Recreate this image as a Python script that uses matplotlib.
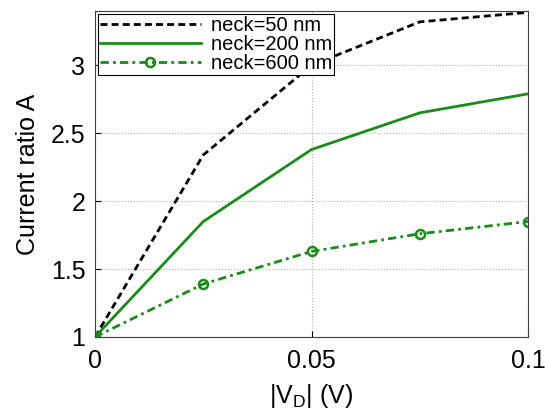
import matplotlib
matplotlib.use("Agg")
import matplotlib.pyplot as plt

plt.rcParams['font.family'] = ['Liberation Sans', 'DejaVu Sans']
plt.rcParams['mathtext.fontset'] = 'custom'
plt.rcParams['mathtext.rm'] = 'Liberation Sans'

vd = [0, 0.025, 0.05, 0.075, 0.1]
neck50 = [1.0, 2.34, 3.0, 3.32, 3.39]
neck200 = [1.0, 1.85, 2.38, 2.65, 2.79]
neck600 = [1.0, 1.39, 1.63, 1.76, 1.85]
labels = ['neck=50 nm', 'neck=200 nm', 'neck=600 nm']

green = '#1a8a1a'
fig = plt.figure(figsize=(5.45, 4.13), dpi=100)
ax = fig.add_axes([95/545, 1-337/413, (528-95)/545, (337-11)/413])
ax.plot(vd, neck50, color='black', linestyle=(0, (2.5, 1.5)), lw=2, label=labels[0])
ax.plot(vd, neck200, color=green, linestyle='-', lw=2, label=labels[1])
ax.plot(vd, neck600, color=green, linestyle=(0, (3, 1.5, 1, 1.5)), lw=2, marker='o', ms=6.5,
        mfc='none', mew=1.8, label=labels[2])
ax.set_xlim(0, 0.1)
ax.set_ylim(1, 3.4)
ax.set_xticks([0, 0.05, 0.1])
ax.set_xticklabels(['0', '0.05', '0.1'])
ax.set_yticks([1, 1.5, 2, 2.5, 3])
ax.set_yticklabels(['1', '1.5', '2', '2.5', '3'])
ax.grid(True, linestyle=':', color='#b0b0b0', lw=0.8)
ax.tick_params(labelsize=18, direction='in', length=4, pad=7, colors='black')
ax.tick_params(axis='x', pad=9)
for s in ax.spines.values():
    s.set_color('#404040')
ax.set_xlabel('|V$_\\mathregular{D}$| (V)', fontsize=18, labelpad=6)
ax.set_ylabel('Current ratio A', fontsize=18, labelpad=8)
leg = ax.legend(loc='upper left', fontsize=14.5, fancybox=False, edgecolor='black',
                framealpha=1, borderpad=0.1, labelspacing=0.0, handlelength=5.0,
                borderaxespad=0.15, handletextpad=0.5)
leg.get_frame().set_linewidth(0.8)
fig.savefig('out.png', dpi=100)
